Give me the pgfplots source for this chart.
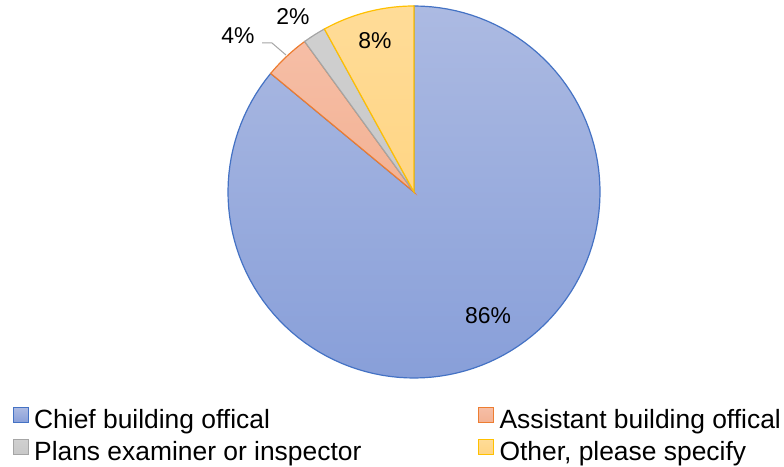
\documentclass[border=0pt]{standalone}
\usepackage{pgfplots}
\pgfplotsset{compat=1.18}
\usepackage{fontspec}
\setmainfont{Liberation Sans}
\definecolor{bluetop}{HTML}{ACBAE2}
\definecolor{bluebot}{HTML}{889FD9}
\definecolor{blueline}{HTML}{4472C4}
\definecolor{oratop}{HTML}{F6BEA6}
\definecolor{orabot}{HTML}{F3B294}
\definecolor{oraline}{HTML}{ED7D31}
\definecolor{graytop}{HTML}{D0D0D0}
\definecolor{graybot}{HTML}{C8C8C8}
\definecolor{grayline}{HTML}{A5A5A5}
\definecolor{yeltop}{HTML}{FFDC98}
\definecolor{yelbot}{HTML}{FFD584}
\definecolor{yelline}{HTML}{FFC000}
% shares in percent
\def\pA{86}\def\pB{4}\def\pC{2}\def\pD{8}
\pgfmathsetmacro{\aA}{90}
\pgfmathsetmacro{\aB}{\aA-3.6*\pA}
\pgfmathsetmacro{\aC}{\aB-3.6*\pB}
\pgfmathsetmacro{\aD}{\aC-3.6*\pC}
\pgfmathsetmacro{\aE}{\aD-3.6*\pD}
\begin{document}
\begin{tikzpicture}
\begin{axis}[
  x=1bp, y=1bp,
  xmin=-414, xmax=370, ymin=-273, ymax=192,
  hide axis, clip=false,
  legend columns=2,
  legend cell align=left,
  legend style={draw=none, fill=none, inner sep=0pt, outer sep=0pt,
    anchor=north west, at={(0.01658,0.1247)},
    font=\fontsize{26.5}{30}\selectfont,
    nodes={inner sep=0pt, text height=20bp, text depth=6bp},
    row sep=4bp,
    /tikz/column 2/.style={column sep=117bp}},
  legend image code/.code={\draw[#1,line width=1.1bp] (0bp,-1bp) rectangle (15bp,14bp); \path (20bp,0bp);},
]
\path (axis cs:-414,-273) rectangle (axis cs:370,192);
\addplot[top color=bluetop, bottom color=bluebot, draw=blueline, line width=1.2bp, domain=\aB:\aA, samples=120, variable=\t]
  ({186*cos(\t)},{186*sin(\t)}) -- (axis cs:0,0) -- cycle;
\addlegendentry{Chief building offical}
\addplot[top color=oratop, bottom color=orabot, draw=oraline, line width=1.2bp, domain=\aC:\aB, samples=20, variable=\t]
  ({186*cos(\t)},{186*sin(\t)}) -- (axis cs:0,0) -- cycle;
\addlegendentry{Assistant building offical}
\addplot[top color=graytop, bottom color=graybot, draw=grayline, line width=1.2bp, domain=\aD:\aC, samples=12, variable=\t]
  ({186*cos(\t)},{186*sin(\t)}) -- (axis cs:0,0) -- cycle;
\addlegendentry{Plans examiner or inspector}
\addplot[top color=yeltop, bottom color=yelbot, draw=yelline, line width=1.2bp, domain=\aE:\aD, samples=30, variable=\t]
  ({186*cos(\t)},{186*sin(\t)}) -- (axis cs:0,0) -- cycle;
\addlegendentry{Other, please specify}
\addplot[grayline, line width=1bp, forget plot] coordinates {(-152,149) (-142,149) (-128,137)};
\node[font=\fontsize{23}{27}\selectfont] at (axis cs:74,-124) {86\%};
\node[font=\fontsize{23}{27}\selectfont] at (axis cs:-39,151) {8\%};
\node[font=\fontsize{23}{27}\selectfont] at (axis cs:-121,175) {2\%};
\node[font=\fontsize{23}{27}\selectfont] at (axis cs:-176,156) {4\%};
\end{axis}
\end{tikzpicture}
\end{document}
